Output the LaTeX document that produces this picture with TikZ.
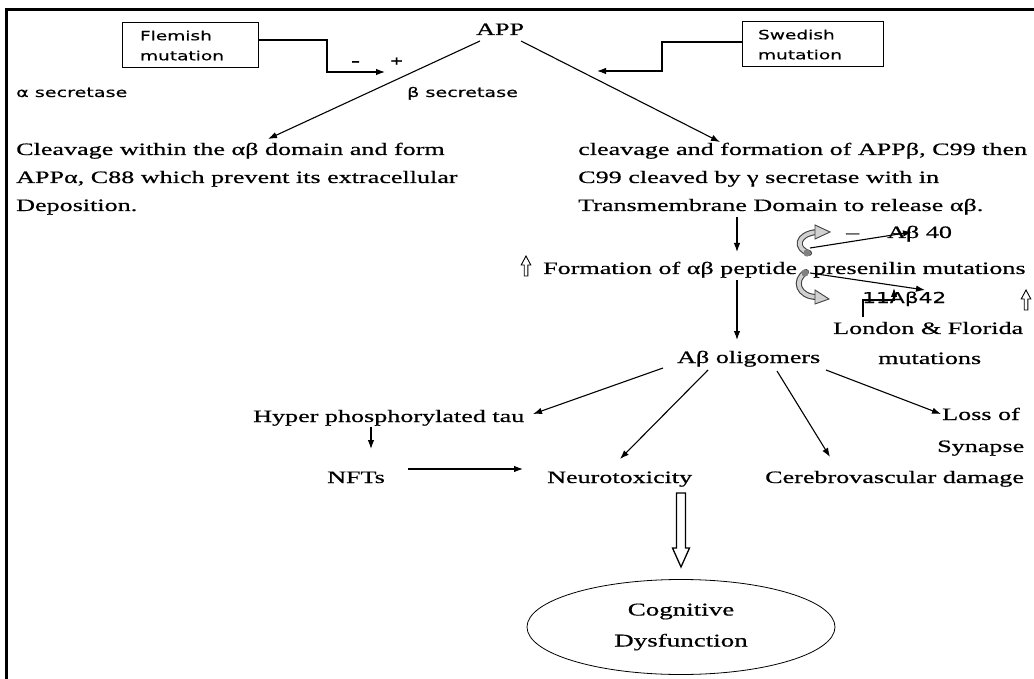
\documentclass[tikz,border=0pt]{standalone}
\usepackage{fontspec}
\setmainfont{Liberation Serif}[FakeStretch=1.5,FakeBold=0.6]
\newfontfamily\labelsans{DejaVu Sans}[FakeStretch=1.45,FakeBold=0.4]
\usetikzlibrary{arrows.meta,shapes.geometric}

\tikzset{
  txt/.style={anchor=base west, inner sep=0pt, font=\fontsize{17.4}{20}\selectfont},
  stxt/.style={anchor=base west, inner sep=0pt, font=\labelsans\fontsize{13.2}{15}\selectfont},
  conn/.style={line width=1.1pt, -{Latex[length=9pt,width=6.5pt]}},
  mbox/.style={draw, line width=1pt, inner sep=0pt, align=left,
               font=\labelsans\fontsize{12.8}{20}\selectfont},
  hollowup/.pic={\draw[line width=0.9pt, fill=white]
      (-1.8,0) -- (-1.8,-11) -- (-4.8,-11) -- (0,-20) -- (4.8,-11) -- (1.8,-11) -- (1.8,0) -- cycle;},
  curlout/.style={line width=6pt, draw=black!75, line cap=round},
  curlin/.style={line width=3.8pt, draw=black!18, line cap=round},
}

\begin{document}
\begin{tikzpicture}[x=1pt,y=-1pt]
\useasboundingbox (0,0) rectangle (1034,679);

% frame
\draw[line width=3pt] (6,679) -- (6,10) -- (1034,10);

% top: APP and the two mutation boxes
\node[txt] (app) at (476,35) {APP};
\node[mbox, minimum width=136pt, minimum height=45pt, text width=100pt] (flem) at (190,45.5) {Flemish\\mutation};
\node[mbox, minimum width=141pt, minimum height=45pt, text width=109pt] (swed) at (812.5,44.5) {Swedish\\mutation};

\node[txt] (minus1) at (351,66) {-};
\node[txt, font=\bfseries\fontsize{15}{16}\selectfont] (plus1) at (390,66) {+};

\coordinate (f0) at (258,40);
\coordinate (fk) at (327,72);
\coordinate (fe) at (385,72);
\draw[conn] (f0) -| (fk) -- (fe);

\coordinate (s0) at (742,42);
\coordinate (sk) at (662,71);
\coordinate (se) at (597,71);
\draw[conn] (s0) -| (sk) -- (se);

\node[stxt] (asec) at (16,97) {α secretase};
\node[stxt] (bsec) at (407,97) {β secretase};

% the two cleavage routes
\node[txt] (l1) at (16,155) {Cleavage within the αβ domain and form};
\node[txt] (l2) at (16,183) {APPα, C88 which prevent its extracellular};
\node[txt] (l3) at (16,211) {Deposition.};

\node[txt] (r1) at (578,155) {cleavage and formation of APPβ, C99 then};
\node[txt] (r2) at (578,183) {C99 cleaved by γ secretase with in};
\node[txt] (r3) at (578,211) {Transmembrane Domain to release αβ.};

\coordinate (appl) at (480,41);
\coordinate (appr) at (521,41);
\coordinate (lt) at (268,139);
\coordinate (rt) at (720,142);
\draw[conn] (appl) -- (lt);
\draw[conn] (appr) -- (rt);

% peptide formation
\coordinate (d1s) at (737,217);
\coordinate (d1e) at (737,252);
\draw[conn] (d1s) -- (d1e);

\pic at (526,276) {hollowup};
\node[txt] (form) at (543,274) {Formation of αβ peptide};
\node[txt] (pres) at (813,274) {presenilin mutations};

\node[txt] (dash40) at (846,238) {–};
\node[txt] (ab40) at (887,238) {Aβ 40};
\node[stxt, font=\labelsans\fontsize{15}{16}\selectfont] (ab42) at (862,303) {11Aβ42};
\pic at (1026,310) {hollowup};

% curved block arrows beside the peptide
\draw[curlout] (809,253) .. controls (795,249) and (796,234) .. (817,232);
\draw[curlin] (809,253) .. controls (795,249) and (796,234) .. (817,232);
\fill[black!18, draw=black!75, line width=0.9pt] (815,225) -- (830,232) -- (815,239) -- cycle;
\fill[black!50] (807,253) circle (3.6pt);

\draw[curlout] (806,272) .. controls (793,280) and (798,297) .. (817,297);
\draw[curlin] (806,272) .. controls (793,280) and (798,297) .. (817,297);
\fill[black!18, draw=black!75, line width=0.9pt] (815,290) -- (829,299) -- (815,304) -- cycle;
\fill[black!50] (805,273) circle (3.6pt);

\coordinate (c40s) at (810,248);
\coordinate (c40e) at (912,232);
\draw[conn] (c40s) -- (c40e);
\coordinate (c42s) at (810,273);
\coordinate (c42e) at (925,290);
\draw[conn] (c42s) -- (c42e);

\node[txt] (lond) at (833,334) {London \& Florida};
\node[txt] (mut) at (878,364) {mutations};

\coordinate (lf0) at (863,317);
\coordinate (lf1) at (863,300);
\coordinate (lf2) at (894,288);
\draw[conn] (lf0) -- (lf1) -| (lf2);

\coordinate (d2s) at (737,280);
\coordinate (d2e) at (737,340);
\draw[conn] (d2s) -- (d2e);

% oligomers and their effects
\node[txt] (olig) at (677,363) {Aβ oligomers};

\node[txt] (tau) at (253,422) {Hyper phosphorylated tau};
\node[txt] (nft) at (327,483) {NFTs};
\node[txt] (neuro) at (547,483) {Neurotoxicity};
\node[txt] (cereb) at (765,483) {Cerebrovascular damage};
\node[txt] (loss) at (942,420) {Loss of};
\node[txt] (syn) at (937,452) {Synapse};

\coordinate (o1) at (663,368);  \coordinate (t1) at (533,414);
\coordinate (o2) at (708,370);  \coordinate (t2) at (620,459);
\coordinate (o3) at (777,371);  \coordinate (t3) at (830,457);
\coordinate (o4) at (826,370);  \coordinate (t4) at (941,414);
\draw[conn] (o1) -- (t1);
\draw[conn] (o2) -- (t2);
\draw[conn] (o3) -- (t3);
\draw[conn] (o4) -- (t4);

\coordinate (ta) at (371,427);
\coordinate (tb) at (371,449);
\draw[conn] (ta) -- (tb);

\coordinate (na) at (408,469);
\coordinate (nb) at (523,469);
\draw[conn] (na) -- (nb);

% outcome
\node[ellipse, draw, line width=0.8pt, minimum width=308pt, minimum height=95pt,
      inner sep=0pt, align=center, font=\fontsize{18}{31}\selectfont] (cog) at (681,627)
      {Cognitive\\Dysfunction};

\draw[line width=1.3pt, fill=white]
  (676.5,493) -- (676.5,548) -- (672.5,548) -- (681,567) -- (689.5,548) -- (685.5,548) -- (685.5,493) -- cycle;
\end{tikzpicture}
\end{document}
